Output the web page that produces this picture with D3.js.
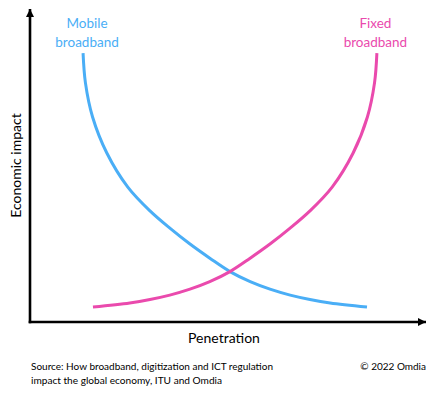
<!DOCTYPE html>
<html><head><meta charset="utf-8">
<script src="https://cdn.jsdelivr.net/npm/d3@7"></script>
<style>html,body{margin:0;padding:0;background:#fff;}svg{display:block;font-family:Lato,"Open Sans",sans-serif;}</style>
</head><body><svg id="c" width="435" height="393"></svg>
<script>
// Penetration (0-100) vs economic impact (0-100), schematic curves
const seriesNames = ["Mobile\nbroadband", "Fixed\nbroadband"];
const mobilePenetration = [13.4, 14.0, 15.8, 19.4, 24.7, 30.3, 35.4, 40.4, 45.5, 50.5, 55.6, 60.6, 65.7, 70.7, 75.8, 85.1];
const mobileImpact      = [85.9, 76.4, 65.5, 54.0, 43.1, 35.5, 29.9, 24.9, 20.3, 16.1, 12.9, 10.5, 8.6, 7.2, 6.1, 4.8];
const fixedPenetration  = [15.9, 25.2, 30.3, 35.3, 40.4, 45.4, 50.5, 55.5, 60.6, 65.6, 70.7, 76.3, 81.6, 85.2, 87.0, 87.6];
const fixedImpact       = [4.8, 6.1, 7.2, 8.6, 10.5, 12.9, 16.1, 20.3, 24.9, 29.9, 35.5, 43.1, 54.0, 65.5, 76.4, 85.9];
const xTitle = "Penetration";
const yTitle = "Economic impact";
const sourceLines = ["Source: How broadband, digitization and ICT regulation", "impact the global economy, ITU and Omdia"];
const copyright = "© 2022 Omdia";

const colors = ["#4aaef6", "#ea4aad"];
const svg = d3.select("#c");
const x = d3.scaleLinear().domain([0, 100]).range([30, 426]);
const y = d3.scaleLinear().domain([0, 100]).range([322, 9]);

const defs = svg.append("defs");
defs.append("marker").attr("id", "arr").attr("viewBox", "0 0 10 10")
  .attr("refX", 10).attr("refY", 5).attr("markerWidth", 10).attr("markerHeight", 8)
  .attr("markerUnits", "userSpaceOnUse").attr("orient", "auto")
  .append("path").attr("d", "M0,0L10,5L0,10Z").attr("fill", "#000");

// axes: domain lines only with arrow ends
const gx = svg.append("g").attr("transform", `translate(0,${y(0)})`)
  .call(d3.axisBottom(x).tickValues([]).tickSizeOuter(0));
const gy = svg.append("g").attr("transform", `translate(${x(0)},0)`)
  .call(d3.axisLeft(y).tickValues([]).tickSizeOuter(0));
gx.select(".domain").attr("stroke", "#000").attr("stroke-width", 2.6).attr("marker-end", "url(#arr)")
  .attr("d", `M${x(0) - 1.3},0H${x(100)}`);
gy.select(".domain").attr("stroke", "#000").attr("stroke-width", 2.6)
  .attr("d", `M0,${y(0) + 1.3}V${y(100)}`).attr("marker-end", "url(#arr)");

const line = d3.line().x(d => x(d[0])).y(d => y(d[1])).curve(d3.curveCatmullRom.alpha(0.5));
const series = [
  d3.zip(mobilePenetration, mobileImpact),
  d3.zip(fixedPenetration, fixedImpact)
];
series.forEach((pts, i) => {
  svg.append("path").datum(pts).attr("d", line).attr("fill", "none")
    .attr("stroke", colors[i]).attr("stroke-width", 3);
});

// series labels above curve tops
const labelX = [x(mobilePenetration[0]) + 4, x(fixedPenetration[fixedPenetration.length - 1]) - 1.5];
seriesNames.forEach((name, i) => {
  const t = svg.append("text").attr("text-anchor", "middle").attr("fill", colors[i])
    .attr("font-size", 13.5);
  name.split("\n").forEach((s, j) => {
    t.append("tspan").attr("x", labelX[i]).attr("y", 28 + j * 18.5).text(s);
  });
});

// axis titles
svg.append("text").attr("x", 224).attr("y", 343).attr("text-anchor", "middle")
  .attr("font-size", 14).attr("fill", "#000").text(xTitle);
svg.append("text").attr("transform", "translate(21,165.5) rotate(-90)").attr("text-anchor", "middle")
  .attr("font-size", 14).attr("fill", "#000").text(yTitle);

// source notes
sourceLines.forEach((s, j) => {
  svg.append("text").attr("x", 31).attr("y", 370 + j * 13.5).attr("font-size", 10)
    .attr("fill", "#000").attr("textLength", j === 0 ? 242 : 191).attr("lengthAdjust", "spacingAndGlyphs").text(s);
});
svg.append("text").attr("x", 426).attr("y", 370).attr("text-anchor", "end").attr("font-size", 10)
  .attr("fill", "#000").text(copyright);
</script></body></html>
